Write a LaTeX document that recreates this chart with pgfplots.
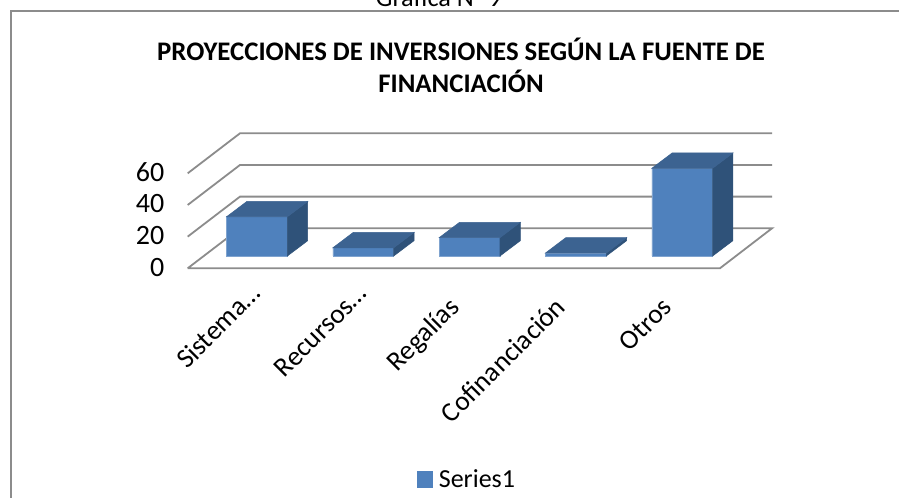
\documentclass[border=0pt]{standalone}
\usepackage{fontspec}
\setmainfont{Carlito}
\usepackage{pgfplots}
\usepackage{pgfplotstable}
\pgfplotsset{compat=1.18}
\definecolor{front}{HTML}{4F81BD}
\definecolor{frontedge}{HTML}{7FA3CF}
\definecolor{topface}{HTML}{3C6391}
\definecolor{sideface}{HTML}{2F5279}
\definecolor{gridc}{HTML}{8C8C8C}
\def\px{0.75pt}
\pgfdeclareplotmark{emptymark}{}
\pgfplotstableread{
c v
0 24.8
1 5.2
2 11.6
3 1.9
4 55.4
}\bars
\begin{document}
\begin{tikzpicture}
\path[use as bounding box,clip] (0pt,0pt) rectangle (899*\px,498*\px);
\fill[white] (0pt,0pt) rectangle (899*\px,498*\px);
% frame
\draw[gridc,line width=1.5*\px] (11*\px,-5*\px) -- (11*\px,487.2*\px) -- (905*\px,487.2*\px);
% back grid, floor and ticks
\begin{axis}[
  at={(170*\px,229.7*\px)},anchor=south west,scale only axis,
  width=729*\px,height=268.3*\px,
  xmin=-0.8184,xmax=6.0395,ymin=0,ymax=169.49,
  clip=false,
  axis line style={draw=none},
  axis y line*=left,axis x line*=bottom,
  major tick length=0pt,
  xtick={0,1,2,3,4},
  xticklabels={Sistema…,Recursos…,Regalías\rule{14.5pt}{0pt},Cofinanciación\rule{14.5pt}{0pt},Otros\rule{14.5pt}{0pt}},
  xticklabel style={rotate=45,anchor=base east,xshift=-11*\px,yshift=-22.5*\px,font=\fontsize{20.5pt}{22pt}\selectfont},
  ytick={0,20,40,60},
  yticklabel style={font=\fontsize{21pt}{22pt}\selectfont,xshift=-1*\px,yshift=1*\px,/pgf/number format/assume math mode=true},
  /pgf/number format/assume math mode=true,
]
\addplot[gridc,line width=1.8*\px,fill=white] coordinates {(-0.652,0)(4.355,0)(4.845,25.27)(-0.16,25.27)(-0.652,0)};
\addplot[gridc,line width=1.8*\px] coordinates {(-0.652,20)(-0.16,45.27)(4.845,45.27)};
\addplot[gridc,line width=1.8*\px] coordinates {(-0.652,40)(-0.16,65.27)(4.845,65.27)};
\addplot[gridc,line width=1.8*\px] coordinates {(-0.652,60)(-0.16,85.27)(4.845,85.27)};
\end{axis}
% bars
\begin{axis}[
  at={(170*\px,242*\px)},anchor=south west,scale only axis,
  width=729*\px,height=256*\px,
  xmin=-0.8184,xmax=6.0395,ymin=0,ymax=161.72,
  clip=false,hide axis,
  legend style={at={(417*\px-170*\px,-236*\px)},anchor=south west,draw=none,fill=none,
    inner sep=0pt,outer sep=0pt,font=\fontsize{19.5pt}{22pt}\selectfont,
    legend cell align=left},
  legend image code/.code={\fill[front] (0pt,-8*\px) rectangle (15*\px,8*\px);},
]
\addplot[forget plot,only marks,mark=emptymark,scatter,point meta=y,
  visualization depends on={\thisrow{v}*1.583 \as \hpx},
  scatter/@pre marker code/.code={%
    \fill[sideface] (30.4*\px,0pt) -- (50.7*\px,15.3*\px) -- (50.7*\px,15.3*\px-\hpx*\px) -- (30.4*\px,-\hpx*\px) -- cycle;
    \fill[topface] (-30.4*\px,0pt) -- (30.4*\px,0pt) -- (50.7*\px,15.3*\px) -- (-10.1*\px,15.3*\px) -- cycle;
  },
  scatter/@post marker code/.code={},
] table[x=c,y=v] {\bars};
\addplot[ybar,bar width=60.7*\px,bar shift=0pt,fill=front,draw=frontedge,line width=0.7*\px] table[x=c,y=v] {\bars};
\addlegendentry{\hspace{2.6pt}Series1}
\end{axis}
% texts
\node[anchor=base,font=\fontsize{19.7pt}{20pt}\selectfont,inner sep=0pt] at (439*\px,491.5*\px) {Gráfica N° 9};
\node[anchor=base,font=\fontsize{20.1pt}{22pt}\selectfont\bfseries,inner sep=0pt] at (461*\px,437*\px) {PROYECCIONES DE INVERSIONES SEGÚN LA FUENTE DE};
\node[anchor=base,font=\fontsize{20.1pt}{22pt}\selectfont\bfseries,inner sep=0pt] at (461*\px,405.5*\px) {FINANCIACIÓN};
\end{tikzpicture}
\end{document}
